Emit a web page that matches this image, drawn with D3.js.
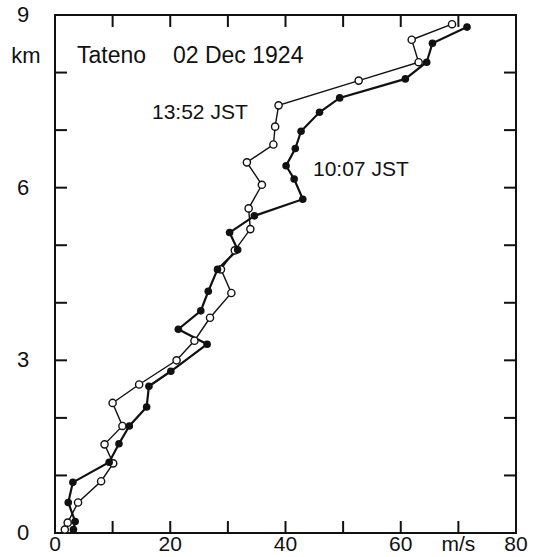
<!DOCTYPE html>
<html>
<head>
<meta charset="utf-8">
<script src="https://cdn.jsdelivr.net/npm/d3@7"></script>
<style>
  body { margin: 0; background: #fff; }
  text { font-family: "Liberation Sans", Arial, sans-serif; fill: #111; }
</style>
</head>
<body>
<svg width="536" height="557"></svg>
<script>
// wind speed (m/s) vs height (km)
const morningSpeed = [3.2, 3.5, 2.3, 3.1, 9.4, 11.1, 12.9, 15.9, 16.3, 20.1, 26.4, 21.4, 25.3, 26.6, 28.2, 31.7, 30.3, 34.6, 43.0, 41.5, 40.1, 41.7, 42.7, 45.9, 49.4, 60.8, 64.5, 65.5, 71.5];
const morningHeight = [0.06, 0.2, 0.53, 0.88, 1.23, 1.55, 1.86, 2.19, 2.55, 2.81, 3.28, 3.54, 3.86, 4.2, 4.58, 4.92, 5.22, 5.51, 5.8, 6.15, 6.38, 6.68, 6.98, 7.31, 7.56, 7.89, 8.18, 8.51, 8.79];

const afternoonSpeed = [1.7, 2.2, 4.0, 8.0, 10.1, 8.6, 11.7, 10.0, 14.6, 21.1, 24.2, 26.9, 30.6, 28.8, 31.2, 33.9, 33.6, 35.9, 33.3, 37.9, 38.2, 38.8, 52.7, 63.1, 61.9, 68.9];
const afternoonHeight = [0.06, 0.18, 0.53, 0.9, 1.21, 1.54, 1.86, 2.26, 2.58, 3.0, 3.34, 3.74, 4.17, 4.58, 4.91, 5.28, 5.64, 6.05, 6.44, 6.75, 7.06, 7.43, 7.86, 8.18, 8.57, 8.84];

const xTickLabels = [0, 20, 40, 60, 80];
const yTickLabels = [0, 3, 6, 9];

function createChart() {
  const svg = d3.select('svg');
  const left = 55, right = 516, top = 15, bottom = 533;
  const tickLen = 12;

  const xScale = d3.scaleLinear().domain([0, 80]).range([left, right]);
  const yScale = d3.scaleLinear().domain([0, 9]).range([bottom, top]);

  const frame = svg.append('g');
  frame.append('rect')
      .attr('x', left).attr('y', top)
      .attr('width', right - left).attr('height', bottom - top)
      .style('fill', 'none').style('stroke', '#111').style('stroke-width', 2);

  const xMinor = d3.range(10, 80, 10);
  const yMinor = d3.range(1, 9, 1);

  frame.selectAll('line.xb').data(xMinor).enter().append('line')
      .attr('x1', d => xScale(d)).attr('x2', d => xScale(d))
      .attr('y1', bottom).attr('y2', bottom - tickLen)
      .style('stroke', '#111').style('stroke-width', 2);
  frame.selectAll('line.xt').data(xMinor).enter().append('line')
      .attr('x1', d => xScale(d)).attr('x2', d => xScale(d))
      .attr('y1', top).attr('y2', top + tickLen)
      .style('stroke', '#111').style('stroke-width', 2);
  frame.selectAll('line.yl').data(yMinor).enter().append('line')
      .attr('x1', left).attr('x2', left + tickLen)
      .attr('y1', d => yScale(d)).attr('y2', d => yScale(d))
      .style('stroke', '#111').style('stroke-width', 2);
  frame.selectAll('line.yr').data(yMinor).enter().append('line')
      .attr('x1', right).attr('x2', right - tickLen)
      .attr('y1', d => yScale(d)).attr('y2', d => yScale(d))
      .style('stroke', '#111').style('stroke-width', 2);

  svg.selectAll('text.xl').data(xTickLabels).enter().append('text')
      .attr('x', d => xScale(d)).attr('y', 551)
      .attr('text-anchor', 'middle')
      .style('font-size', '21px')
      .text(d => d);
  svg.append('text')
      .attr('x', xScale(70)).attr('y', 551)
      .attr('text-anchor', 'middle')
      .style('font-size', '21px')
      .text('m/s');

  svg.selectAll('text.yl').data(yTickLabels).enter().append('text')
      .attr('x', 23).attr('y', d => yScale(d) + 7)
      .attr('text-anchor', 'middle')
      .style('font-size', '22px')
      .text(d => d);
  svg.append('text')
      .attr('x', 26).attr('y', 63)
      .attr('text-anchor', 'middle')
      .style('font-size', '22px')
      .text('km');

  svg.append('text').attr('x', 77).attr('y', 63)
      .style('font-size', '23px').text('Tateno');
  svg.append('text').attr('x', 173).attr('y', 63)
      .style('font-size', '23px').text('02 Dec 1924');
  svg.append('text').attr('x', 152).attr('y', 119)
      .style('font-size', '21px').text('13:52 JST');
  svg.append('text').attr('x', 313).attr('y', 176)
      .style('font-size', '21px').text('10:07 JST');

  const line = d3.line()
      .x(d => xScale(d[0]))
      .y(d => yScale(d[1]));

  const afternoon = afternoonSpeed.map((s, i) => [s, afternoonHeight[i]]);
  const morning = morningSpeed.map((s, i) => [s, morningHeight[i]]);

  svg.append('path')
      .attr('d', line(afternoon))
      .style('fill', 'none').style('stroke', '#111').style('stroke-width', 1.4);
  svg.append('path')
      .attr('d', line(morning))
      .style('fill', 'none').style('stroke', '#111').style('stroke-width', 2.2);

  svg.selectAll('circle.open').data(afternoon).enter().append('circle')
      .attr('cx', d => xScale(d[0])).attr('cy', d => yScale(d[1]))
      .attr('r', 3.6)
      .style('fill', '#fff').style('stroke', '#111').style('stroke-width', 1.4);
  svg.selectAll('circle.filled').data(morning).enter().append('circle')
      .attr('cx', d => xScale(d[0])).attr('cy', d => yScale(d[1]))
      .attr('r', 3.8)
      .style('fill', '#111');
}

createChart();
</script>
</body>
</html>
